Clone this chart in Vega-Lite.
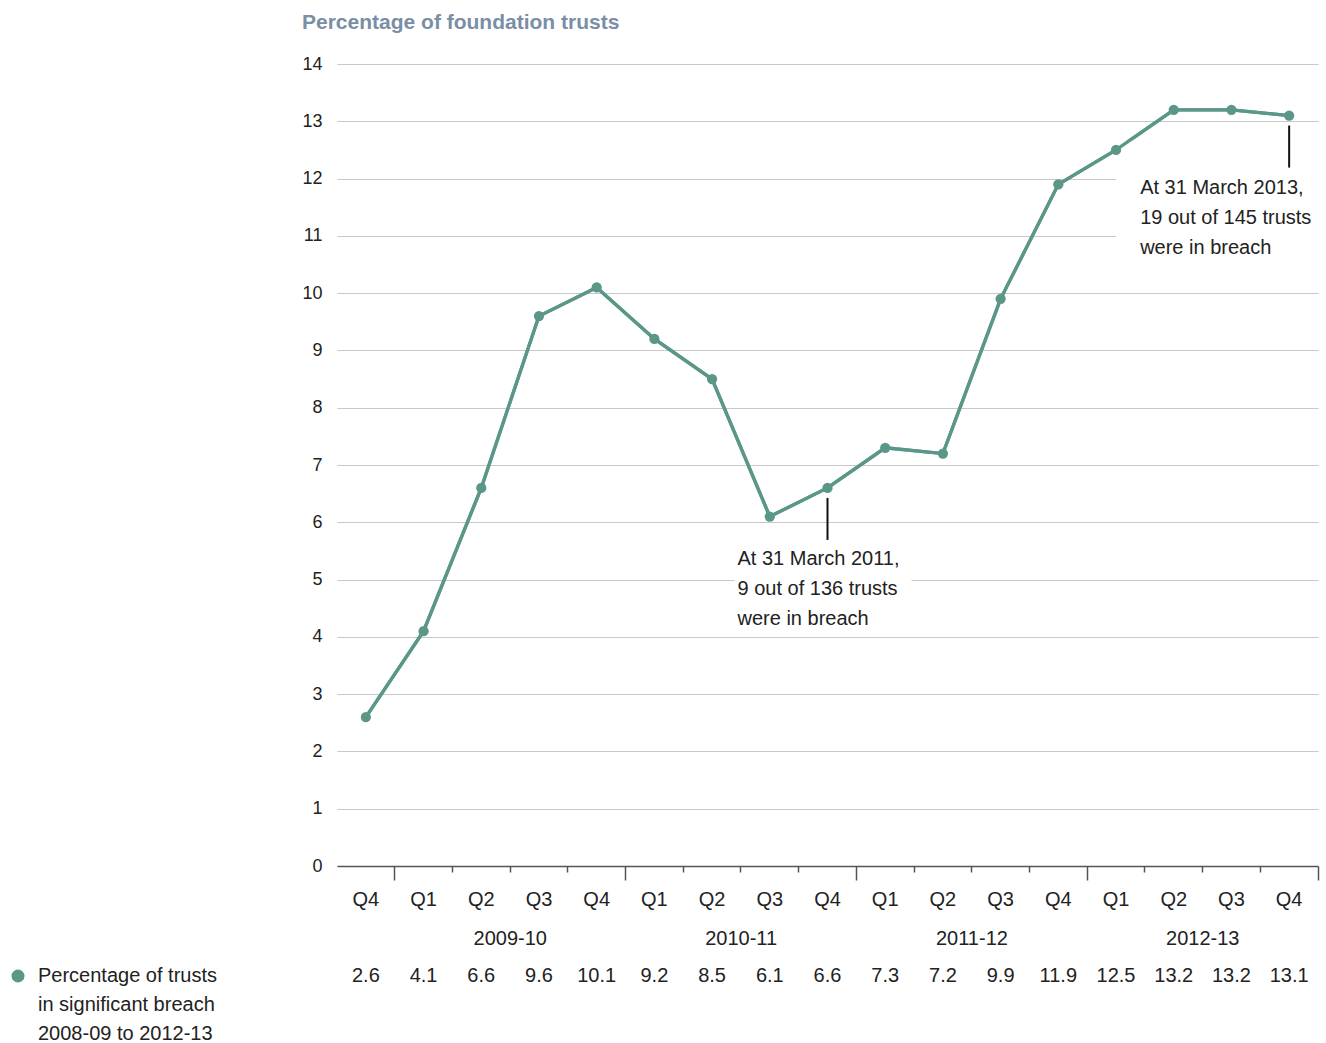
{
  "$schema": "https://vega.github.io/schema/vega-lite/v6.json",
  "width": 981,
  "height": 802,
  "autosize": {"type": "none"},
  "padding": {"left": 337, "top": 64, "right": 8, "bottom": 177},
  "background": "white",
  "config": {
    "font": "Liberation Sans",
    "view": {"stroke": null},
    "axis": {"labelColor": "#222222", "labelFont": "Liberation Sans", "titleFont": "Liberation Sans"},
    "legend": {"labelFont": "Liberation Sans"},
    "style": {"guide-label": {"lineHeight": 29}}
  },
  "title": {
    "text": "Percentage of foundation trusts",
    "anchor": "start",
    "frame": "group",
    "fontSize": 21,
    "fontWeight": "bold",
    "color": "#7a8ea5",
    "dx": -35,
    "offset": 22
  },
  "datasets": {
    "trusts": [
      {"period": "2008-09 Q4", "value": 2.6},
      {"period": "2009-10 Q1", "value": 4.1},
      {"period": "2009-10 Q2", "value": 6.6},
      {"period": "2009-10 Q3", "value": 9.6},
      {"period": "2009-10 Q4", "value": 10.1},
      {"period": "2010-11 Q1", "value": 9.2},
      {"period": "2010-11 Q2", "value": 8.5},
      {"period": "2010-11 Q3", "value": 6.1},
      {"period": "2010-11 Q4", "value": 6.6},
      {"period": "2011-12 Q1", "value": 7.3},
      {"period": "2011-12 Q2", "value": 7.2},
      {"period": "2011-12 Q3", "value": 9.9},
      {"period": "2011-12 Q4", "value": 11.9},
      {"period": "2012-13 Q1", "value": 12.5},
      {"period": "2012-13 Q2", "value": 13.2},
      {"period": "2012-13 Q3", "value": 13.2},
      {"period": "2012-13 Q4", "value": 13.1}
    ],
    "notes": [
      {"period": "2010-11 Q4", "value": 6.6, "note": ["At 31 March 2011,", "9 out of 136 trusts", "were in breach"]},
      {"period": "2012-13 Q4", "value": 13.1, "note": ["At 31 March 2013,", "19 out of 145 trusts", "were in breach"]}
    ]
  },
  "resolve": {"axis": {"x": "independent"}},
  "layer": [
    {
      "data": {"name": "trusts"},
      "mark": {"type": "line", "color": "#5a9789", "strokeWidth": 3.3},
      "encoding": {
        "x": {
          "field": "period", "type": "ordinal", "sort": null,
          "scale": {"type": "band", "paddingInner": 0, "paddingOuter": 0},
          "axis": {
            "title": null, "orient": "bottom", "grid": false,
            "domain": true, "domainColor": "#555555", "domainWidth": 1.5,
            "ticks": false, "tickSize": 0,
            "labelAngle": 0, "labelFontSize": 20, "labelPadding": 23,
            "labelOverlap": false, "labelFlush": false,
            "labelExpr": "slice(datum.value, -2)"
          }
        },
        "y": {
          "field": "value", "type": "quantitative",
          "scale": {"domain": [0, 14], "nice": false, "zero": true},
          "axis": {
            "title": null, "values": [0,1,2,3,4,5,6,7,8,9,10,11,12,13,14],
            "format": "d",
            "grid": true, "gridColor": "#c8c8c8", "gridWidth": 1,
            "domain": false, "ticks": false, "labelPadding": 15,
            "labelFontSize": 18, "labelColor": "#222222"
          }
        }
      }
    },
    {
      "data": {"name": "notes"},
      "transform": [{"filter": "datum.period == '2010-11 Q4'"}],
      "mark": {"type": "point", "filled": true, "color": "white", "opacity": 1, "strokeWidth": 0, "size": 4, "shape": "M-93,57H84V140H-93Z"},
      "encoding": {
        "x": {"field": "period", "type": "ordinal", "sort": null, "axis": null},
        "y": {"field": "value", "type": "quantitative"}
      }
    },
    {
      "data": {"name": "notes"},
      "transform": [{"filter": "datum.period == '2012-13 Q4'"}],
      "mark": {"type": "point", "filled": true, "color": "white", "opacity": 1, "strokeWidth": 0, "size": 4, "shape": "M-173,25H30V146H-173Z"},
      "encoding": {
        "x": {"field": "period", "type": "ordinal", "sort": null, "axis": null},
        "y": {"field": "value", "type": "quantitative"}
      }
    },
    {
      "data": {"name": "trusts"},
      "mark": {"type": "line", "color": "#5a9789", "strokeWidth": 3.3},
      "encoding": {
        "x": {
          "field": "period", "type": "ordinal", "sort": null,
          "axis": {
            "title": null, "orient": "bottom", "grid": false,
            "domain": false, "ticks": false, "tickSize": 0,
            "labelAngle": 0, "labelFontSize": 20, "labelPadding": 62,
            "labelOffset": 29,
            "labelOverlap": false, "labelFlush": false,
            "labelExpr": "slice(datum.value, -2) == 'Q2' ? slice(datum.value, 0, 7) : ''"
          }
        },
        "y": {"field": "value", "type": "quantitative"}
      }
    },
    {
      "data": {"name": "trusts"},
      "mark": {"type": "point", "filled": true, "size": 105, "opacity": 1},
      "encoding": {
        "x": {"field": "period", "type": "ordinal", "sort": null, "axis": null},
        "y": {"field": "value", "type": "quantitative"},
        "color": {
          "datum": "Percentage of trusts in significant breach 2008-09 to 2012-13",
          "type": "nominal",
          "scale": {"range": ["#5a9789"]},
          "legend": {
            "orient": "none", "legendX": -329, "legendY": 902,
            "title": null, "symbolType": "circle", "symbolSize": 170,
            "symbolStrokeWidth": 0, "labelFontSize": 20, "labelColor": "#222222",
            "labelLimit": 400, "padding": 0, "labelOffset": 10,
            "labelExpr": "['Percentage of trusts', 'in significant breach', '2008-09 to 2012-13']"
          }
        }
      }
    },
    {
      "data": {"name": "trusts"},
      "mark": {"type": "text", "fontSize": 20, "color": "#222222", "baseline": "middle", "dy": 110},
      "encoding": {
        "x": {
          "field": "period", "type": "ordinal", "sort": null,
          "axis": {
            "title": null, "orient": "bottom", "grid": false,
            "domain": false, "labels": false, "ticks": true,
            "bandPosition": 1, "tickColor": "#555555", "tickWidth": 1.5,
            "tickSize": {"condition": {"test": "slice(datum.value, -2) == 'Q4'", "value": 14}, "value": 6}
          }
        },
        "y": {"datum": 0, "type": "quantitative"},
        "text": {"field": "value", "type": "quantitative", "format": ".1f"}
      }
    },
    {
      "data": {"name": "notes"},
      "mark": {"type": "rule", "color": "#111111", "strokeWidth": 2, "yOffset": 10, "y2Offset": 52},
      "encoding": {
        "x": {"field": "period", "type": "ordinal", "sort": null, "axis": null},
        "y": {"field": "value", "type": "quantitative"},
        "y2": {"field": "value"}
      }
    },
    {
      "data": {"name": "notes"},
      "transform": [{"filter": "datum.period == '2010-11 Q4'"}],
      "mark": {"type": "text", "align": "left", "baseline": "top", "fontSize": 20, "lineHeight": 30, "color": "#222222", "dx": -90, "dy": 61},
      "encoding": {
        "x": {"field": "period", "type": "ordinal", "sort": null, "axis": null},
        "y": {"field": "value", "type": "quantitative"},
        "text": {"field": "note", "type": "nominal"}
      }
    },
    {
      "data": {"name": "notes"},
      "transform": [{"filter": "datum.period == '2012-13 Q4'"}],
      "mark": {"type": "text", "align": "left", "baseline": "top", "fontSize": 20, "lineHeight": 30, "color": "#222222", "dx": -149, "dy": 62},
      "encoding": {
        "x": {"field": "period", "type": "ordinal", "sort": null, "axis": null},
        "y": {"field": "value", "type": "quantitative"},
        "text": {"field": "note", "type": "nominal"}
      }
    }
  ]
}
